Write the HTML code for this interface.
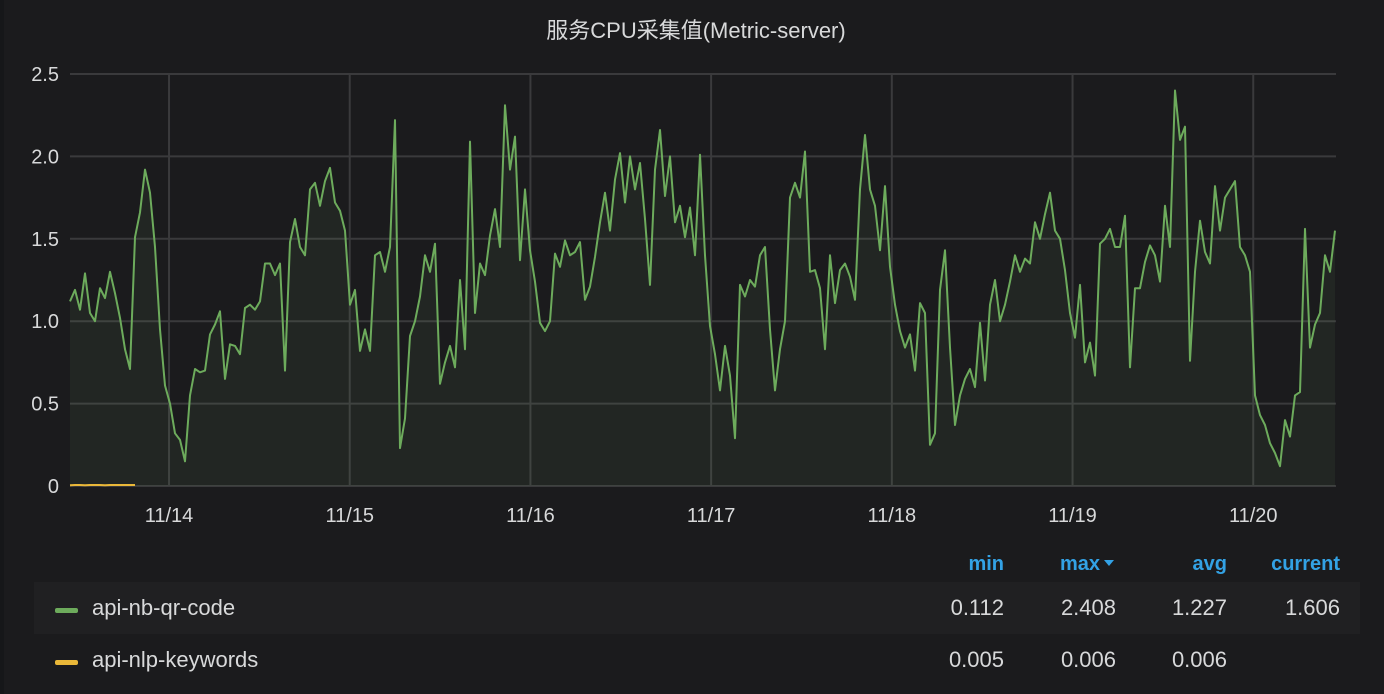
<!DOCTYPE html>
<html><head><meta charset="utf-8">
<style>
html,body{margin:0;padding:0;background:#161719;}
#panel{position:absolute;left:4px;top:0;width:1380px;height:694px;background:#1b1b1d;font-family:"Liberation Sans","Noto Sans CJK SC",sans-serif;color:#d8d9da;}
svg text{font-family:"Liberation Sans","Noto Sans CJK SC",sans-serif;}
</style></head>
<body>
<div id="panel">
<svg id="chart" width="1380" height="694" viewBox="4 0 1380 694" style="position:absolute;left:0;top:0"></svg>
</div>
<script>
const seg1=[1.12,1.19,1.07,1.29,1.05,1.00,1.20,1.14,1.30,1.17,1.02,0.83,0.71,1.51,1.66,1.92,1.78,1.45,0.95,0.61,0.50,0.32,0.28,0.15,0.55,0.71,0.69,0.70,0.92,0.98,1.06,0.65,0.86,0.85,0.80,1.08,1.10,1.07,1.12,1.35,1.35,1.28,1.35,0.70,1.48,1.62,1.45,1.40,1.80,1.84,1.70,1.85,1.93,1.72,1.67,1.55,1.10,1.19,0.82,0.95,0.82,1.40,1.42,1.30,1.45];
const seg2=[2.22,0.23,0.41,0.91,1.00,1.15,1.40,1.30,1.47,0.62,0.75,0.85,0.72,1.25,0.83,2.09,1.05,1.35,1.28,1.52,1.68,1.45,2.31,1.92,2.12,1.37,1.80,1.43,1.24,0.99,0.94,1.00,1.41,1.33,1.49,1.40,1.42,1.48,1.13,1.21,1.39,1.60,1.78,1.55,1.86,2.02,1.72,2.00,1.80,1.96,1.62,1.22,1.92,2.16,1.76,2.00,1.60,1.70,1.51,1.69,1.40,2.01,1.40,0.97];
const seg3=[0.80,0.58,0.85,0.67,0.29,1.22,1.15,1.25,1.21,1.40,1.45,0.95,0.58,0.83,1.00,1.75,1.84,1.75,2.03,1.30,1.31,1.20,0.83,1.40,1.11,1.31,1.35,1.27,1.13,1.80,2.13,1.80,1.70,1.43,1.82,1.33,1.10,0.94,0.84,0.92,0.70,1.11,1.05,0.25,0.32,1.19,1.43,0.84,0.37,0.55,0.65,0.71,0.60,0.99,0.64,1.10,1.25,1.00,1.10,1.24,1.40,1.30,1.38,1.35];
const seg4=[1.60,1.50,1.65,1.78,1.55,1.50,1.31,1.05,0.90,1.22,0.75,0.87,0.67,1.47,1.50,1.56,1.45,1.45,1.64,0.72,1.20,1.20,1.36,1.46,1.40,1.24,1.70,1.45,2.40,2.10,2.18,0.76,1.30,1.61,1.42,1.35,1.82,1.55,1.75,1.80,1.85,1.45,1.40,1.30,0.55,0.43,0.37,0.26,0.20,0.12,0.40,0.30,0.55,0.57,1.56,0.84,0.98,1.05,1.40,1.30,1.55];
const qrValues=seg1.concat(seg2,seg3,seg4);
const nlpValues=[0.005,0.006,0.006,0.005,0.006,0.006,0.006,0.005,0.006,0.006,0.006,0.006,0.006,0.006];
const startDay=13.452, stepDay=5/180.7, endDay=20.458;
const tickDays=[14,15,16,17,18,19,20];
const tickLabels=["11/14","11/15","11/16","11/17","11/18","11/19","11/20"];
const yTicks=[0,0.5,1.0,1.5,2.0,2.5];
const yTickLabels=["0","0.5","1.0","1.5","2.0","2.5"];
const legendNames=["api-nb-qr-code","api-nlp-keywords"];
const legendMin=["0.112","0.005"], legendMax=["2.408","0.006"], legendAvg=["1.227","0.006"], legendCur=["1.606",""];

const NS="http://www.w3.org/2000/svg";
const svg=document.getElementById('chart');
const X0=70,X1=1336,Y0=486,Y1=74;
function xs(d){return X0+(d-startDay)/(endDay-startDay)*(X1-X0);}
function ys(v){return Y0-v/2.5*(Y0-Y1);}
function mk(tag,attrs){const e=document.createElementNS(NS,tag);for(const k in attrs)e.setAttribute(k,attrs[k]);svg.appendChild(e);return e;}

const title=mk('text',{x:696,y:38,'text-anchor':'middle','font-size':22,fill:'#d8d9da'});
title.textContent='服务CPU采集值(Metric-server)';



yTicks.forEach((v,i)=>{
  const l=mk('line',{x1:X0,x2:X1,y1:ys(v),y2:ys(v),stroke:'#3a3a3c','stroke-width':2});
  
  
  const t=mk('text',{x:59,y:ys(v)+7,'text-anchor':'end','font-size':20,fill:'#d8d9da'});
  t.textContent=yTickLabels[i];
  
  
});
tickDays.forEach((d,i)=>{
  const l=mk('line',{x1:xs(d),x2:xs(d),y1:Y1,y2:Y0,stroke:'#3a3a3c','stroke-width':2});
  
  
  const t=mk('text',{x:xs(d),y:522,'text-anchor':'middle','font-size':20,fill:'#d8d9da'});
  t.textContent=tickLabels[i];
  
  
});

function seriesPath(vals){return vals.map((v,i)=>(i?'L':'M')+xs(startDay+i*stepDay).toFixed(1)+','+ys(v).toFixed(1)).join('');}
const qrLine=seriesPath(qrValues);
const lastX=xs(startDay+(qrValues.length-1)*stepDay);
const area=mk('path',{d:qrLine+'L'+lastX+','+Y0+'L'+X0+','+Y0+'Z',fill:'rgba(126,178,109,0.08)'});


const line=mk('path',{d:qrLine,fill:'none',stroke:'#6dab5c','stroke-width':2,'stroke-linejoin':'round'});


const nlp=mk('path',{d:seriesPath(nlpValues),fill:'none',stroke:'#eab839','stroke-width':2});



const colX=[1004,1116,1227,1340];
const heads=['min','max','avg','current'];
heads.forEach((h,i)=>{
  const t=mk('text',{x:colX[i]-(i==1?16:0),y:570,'text-anchor':'end','font-size':20,'font-weight':'bold',fill:'#33a2e5'});
  t.textContent=h;
  
  
});
const tri=mk('path',{d:'M1104,560 L1114,560 L1109,566 Z',fill:'#33a2e5'});


const band=mk('rect',{x:34,y:582,width:1326,height:52,fill:'#202022'});


const colors=['#6dab5c','#eab839'];
legendNames.forEach((n,r)=>{
  const cy=r?659:607;
  const sw=mk('rect',{x:55,y:cy+1,width:23,height:5,rx:2,fill:colors[r]});
  
  
  const t=mk('text',{x:92,y:cy+8,'font-size':22,fill:'#d8d9da'});
  t.textContent=n;
  
  
  [legendMin[r],legendMax[r],legendAvg[r],legendCur[r]].forEach((v,i)=>{
    const tv=mk('text',{x:colX[i],y:cy+8,'text-anchor':'end','font-size':22,fill:'#d8d9da'});
    tv.textContent=v;
    
    
  });
});
</script>
</body></html>
